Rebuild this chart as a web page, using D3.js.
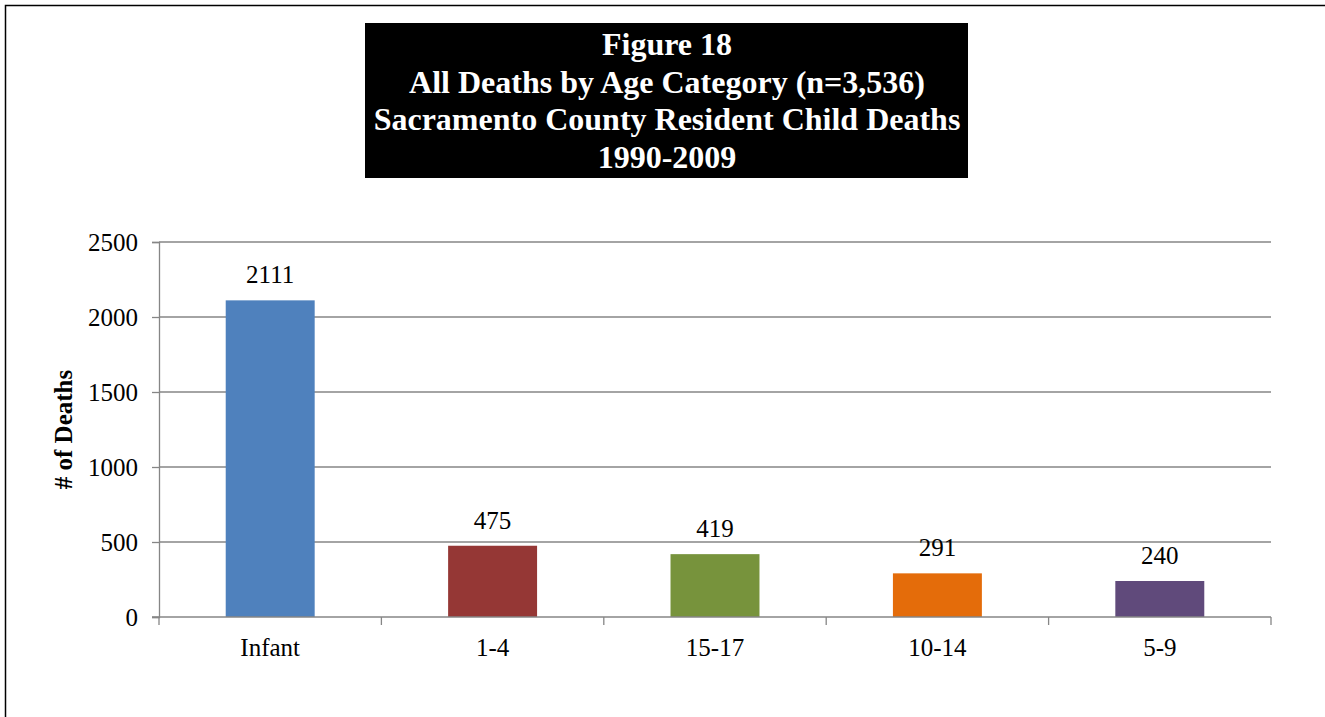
<!DOCTYPE html>
<html>
<head>
<meta charset="utf-8">
<script src="https://cdn.jsdelivr.net/npm/d3@7"></script>
<style>
  body { margin: 0; background: #fff; }
  text { font-family: "Liberation Serif", "Times New Roman", serif; }
</style>
</head>
<body>
<div id="chart"></div>
<script>
const categories = ['Infant', '1-4', '15-17', '10-14', '5-9']
const deaths = [2111, 475, 419, 291, 240]
const barColors = ['#4F81BD', '#953735', '#77933C', '#E46C0A', '#604A7B']
const yTicks = [0, 500, 1000, 1500, 2000, 2500]
const titleLines = [
  'Figure 18',
  'All Deaths by Age Category (n=3,536)',
  'Sacramento County Resident Child Deaths',
  '1990-2009'
]

const W = 1325, H = 717
const margin = { top: 242, right: 54, bottom: 100, left: 159 }
const width = W - margin.left - margin.right
const height = 617 - margin.top
const axisGrey = '#868686'
const fontSize = '25'

const root = d3.select('#chart')
  .append('svg')
  .attr('width', W)
  .attr('height', H)

// outer frame (runs off the right and bottom edge)
root.append('rect')
  .attr('x', 5.5)
  .attr('y', 5.5)
  .attr('width', W + 10)
  .attr('height', H + 10)
  .attr('fill', 'none')
  .attr('stroke', '#000')
  .attr('stroke-width', 1.5)

// title box
root.append('rect')
  .attr('x', 365)
  .attr('y', 23)
  .attr('width', 603)
  .attr('height', 155)
  .attr('fill', '#000')

root.selectAll('text.title')
  .data(titleLines)
  .enter()
  .append('text')
  .classed('title', true)
  .attr('x', 667)
  .attr('y', (d, i) => 55 + i * 37.5)
  .attr('text-anchor', 'middle')
  .attr('font-size', '32')
  .attr('font-weight', 'bold')
  .attr('fill', '#fff')
  .text(d => d)

const svg = root.append('g')
  .attr('transform', 'translate(' + margin.left + ',' + margin.top + ')')

const x = d3.scaleBand().domain(categories).range([0, width]).paddingInner(0.6).paddingOuter(0.3)
const xTicks = d3.scaleBand().domain(categories).range([0, width])
const y = d3.scaleLinear().domain([0, 2500]).range([height, 0])

// gridlines
svg.append('g')
  .attr('class', 'grid')
  .selectAll('line')
  .data(yTicks.filter(t => t > 0))
  .enter()
  .append('line')
  .attr('x1', 0)
  .attr('x2', width)
  .attr('y1', d => y(d))
  .attr('y2', d => y(d))
  .attr('stroke', axisGrey)
  .attr('stroke-width', 1.3)

// y axis
const yAxis = svg.append('g')
  .attr('class', 'y axis')
  .call(d3.axisLeft(y).tickValues(yTicks).tickFormat(d3.format('d')).tickSize(7).tickPadding(14))
yAxis.select('.domain').attr('stroke', axisGrey).attr('stroke-width', 1.3)
yAxis.selectAll('.tick line').attr('stroke', axisGrey).attr('stroke-width', 1.3)
yAxis.selectAll('.tick text')
  .attr('font-size', fontSize)
  .attr('fill', '#000')
  .style('font-family', '"Liberation Serif", serif')

// bars
svg.selectAll('rect.bar')
  .data(deaths)
  .enter()
  .append('rect')
  .classed('bar', true)
  .attr('x', (d, i) => x(categories[i]))
  .attr('width', x.bandwidth())
  .attr('y', d => y(d))
  .attr('height', d => height - y(d))
  .attr('fill', (d, i) => barColors[i])

// value labels
svg.selectAll('text.bar-value')
  .data(deaths)
  .enter()
  .append('text')
  .classed('bar-value', true)
  .attr('text-anchor', 'middle')
  .attr('font-size', fontSize)
  .attr('x', (d, i) => x(categories[i]) + x.bandwidth() / 2)
  .attr('y', d => y(d) - 17)
  .text(d => d)

// x axis with ticks between categories
const xAxisG = svg.append('g')
  .attr('class', 'x axis')
  .attr('transform', 'translate(0,' + height + ')')
xAxisG.append('line')
  .attr('x1', -7).attr('x2', width)
  .attr('stroke', axisGrey).attr('stroke-width', 1.3)
xAxisG.selectAll('line.tick')
  .data(categories.map(c => xTicks(c)).concat([width]))
  .enter()
  .append('line')
  .classed('tick', true)
  .attr('x1', d => d).attr('x2', d => d)
  .attr('y1', 0).attr('y2', 8)
  .attr('stroke', axisGrey).attr('stroke-width', 1.3)
xAxisG.selectAll('text')
  .data(categories)
  .enter()
  .append('text')
  .attr('text-anchor', 'middle')
  .attr('font-size', fontSize)
  .attr('x', d => xTicks(d) + xTicks.bandwidth() / 2)
  .attr('y', 39)
  .text(d => d)

// y axis title
svg.append('text')
  .attr('transform', 'translate(' + (-87) + ',' + (height / 2) + ') rotate(-90)')
  .attr('text-anchor', 'middle')
  .attr('font-size', fontSize)
  .attr('font-weight', 'bold')
  .text('# of Deaths')
</script>
</body>
</html>
